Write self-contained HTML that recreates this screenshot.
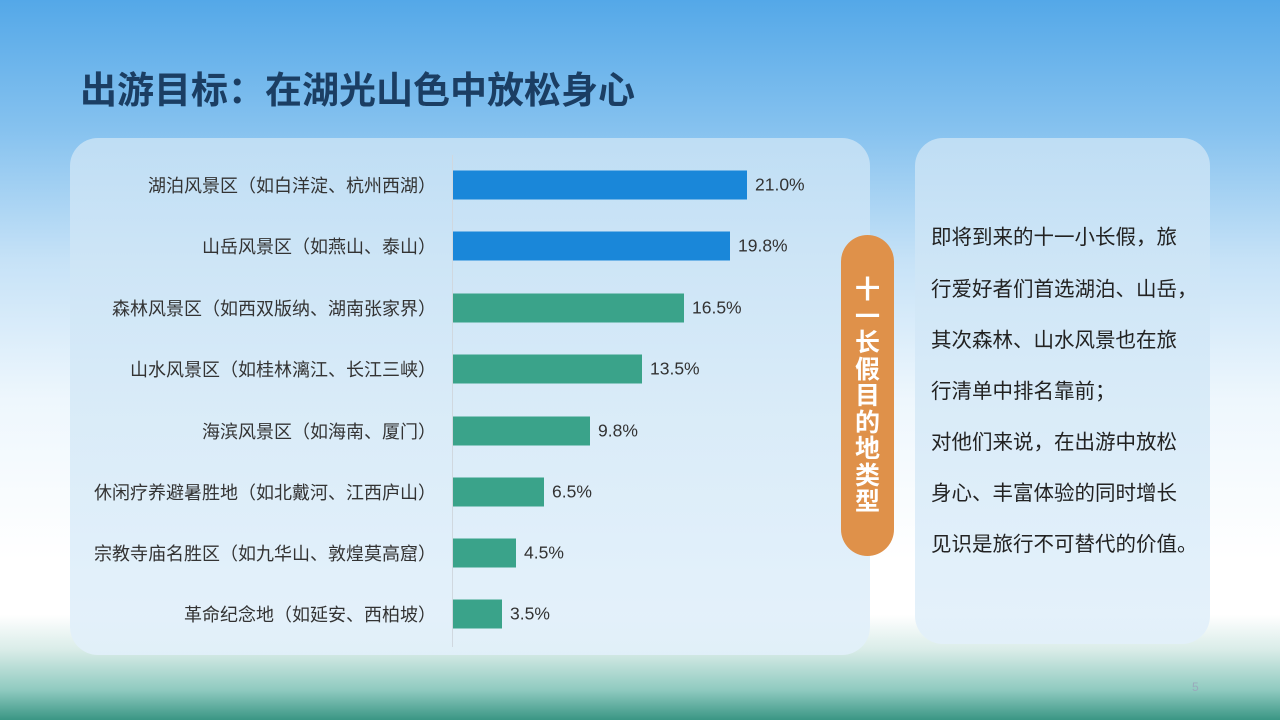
<!DOCTYPE html>
<html><head><meta charset="utf-8"><style>
*{margin:0;padding:0;box-sizing:border-box}
body{width:1280px;height:720px;overflow:hidden;position:relative;font-family:"Liberation Sans","Noto Sans CJK SC",sans-serif;
background:linear-gradient(180deg,#54a8e8 0px,#86c2ef 130px,#c6e2f7 260px,#eef7fd 400px,#ffffff 560px,#ffffff 615px,#d9ece8 650px,#8fcac0 690px,#3a9684 720px);}
.title{position:absolute;left:80px;top:60px;font-size:37px;font-weight:bold;color:#1b3e63;letter-spacing:0px}
.panel{position:absolute;border-radius:28px;background:linear-gradient(180deg,rgba(200,226,245,.85),rgba(226,240,250,.9))}
.lab{position:absolute;right:844px;font-size:18px;color:#333;white-space:nowrap;transform:translateY(-50%)}
.bar{position:absolute;left:453px;height:29px;transform:translateY(-50%)}
.val{position:absolute;font-size:17.5px;color:#333;transform:translateY(-50%)}
.pill{position:absolute;left:841px;top:235px;width:53px;height:321px;border-radius:27px;background:#df914a;color:#fff;font-weight:bold;font-size:25px;line-height:26.5px;text-align:center;padding-top:42px}
.rt{position:absolute;left:931px;font-size:20.5px;color:#222;white-space:nowrap;transform:translateY(-50%)}
</style></head><body>
<div class="title">出游目标：在湖光山色中放松身心</div>
<div class="panel" style="left:70px;top:138px;width:800px;height:517px"></div>
<div class="panel" style="left:915px;top:138px;width:295px;height:506px"></div>
<div style="position:absolute;left:452px;top:155px;width:1px;height:492px;background:#d0d8df"></div>

<div class="lab" style="top:185px">湖泊风景区（如白洋淀、杭州西湖）</div>
<div class="bar" style="top:185px;width:294px;background:#1a87d9"></div><div class="val" style="top:185px;left:755px">21.0%</div>
<div class="lab" style="top:246px">山岳风景区（如燕山、泰山）</div>
<div class="bar" style="top:246px;width:277px;background:#1a87d9"></div><div class="val" style="top:246px;left:738px">19.8%</div>
<div class="lab" style="top:308px">森林风景区（如西双版纳、湖南张家界）</div>
<div class="bar" style="top:308px;width:231px;background:#3aa38a"></div><div class="val" style="top:308px;left:692px">16.5%</div>
<div class="lab" style="top:369px">山水风景区（如桂林漓江、长江三峡）</div>
<div class="bar" style="top:369px;width:189px;background:#3aa38a"></div><div class="val" style="top:369px;left:650px">13.5%</div>
<div class="lab" style="top:431px">海滨风景区（如海南、厦门）</div>
<div class="bar" style="top:431px;width:137px;background:#3aa38a"></div><div class="val" style="top:431px;left:598px">9.8%</div>
<div class="lab" style="top:492px">休闲疗养避暑胜地（如北戴河、江西庐山）</div>
<div class="bar" style="top:492px;width:91px;background:#3aa38a"></div><div class="val" style="top:492px;left:552px">6.5%</div>
<div class="lab" style="top:553px">宗教寺庙名胜区（如九华山、敦煌莫高窟）</div>
<div class="bar" style="top:553px;width:63px;background:#3aa38a"></div><div class="val" style="top:553px;left:524px">4.5%</div>
<div class="lab" style="top:614px">革命纪念地（如延安、西柏坡）</div>
<div class="bar" style="top:614px;width:49px;background:#3aa38a"></div><div class="val" style="top:614px;left:510px">3.5%</div>

<div class="pill">十<br>一<br>长<br>假<br>目<br>的<br>地<br>类<br>型</div>

<div class="rt" style="top:235px">即将到来的十一小长假，旅</div>
<div class="rt" style="top:287px">行爱好者们首选湖泊、山岳，</div>
<div class="rt" style="top:338px">其次森林、山水风景也在旅</div>
<div class="rt" style="top:389px">行清单中排名靠前；</div>
<div class="rt" style="top:440px">对他们来说，在出游中放松</div>
<div class="rt" style="top:491px">身心、丰富体验的同时增长</div>
<div class="rt" style="top:542px">见识是旅行不可替代的价值。</div>

<div style="position:absolute;left:1192px;top:680px;font-size:12px;color:#9ab">5</div>
</body></html>
